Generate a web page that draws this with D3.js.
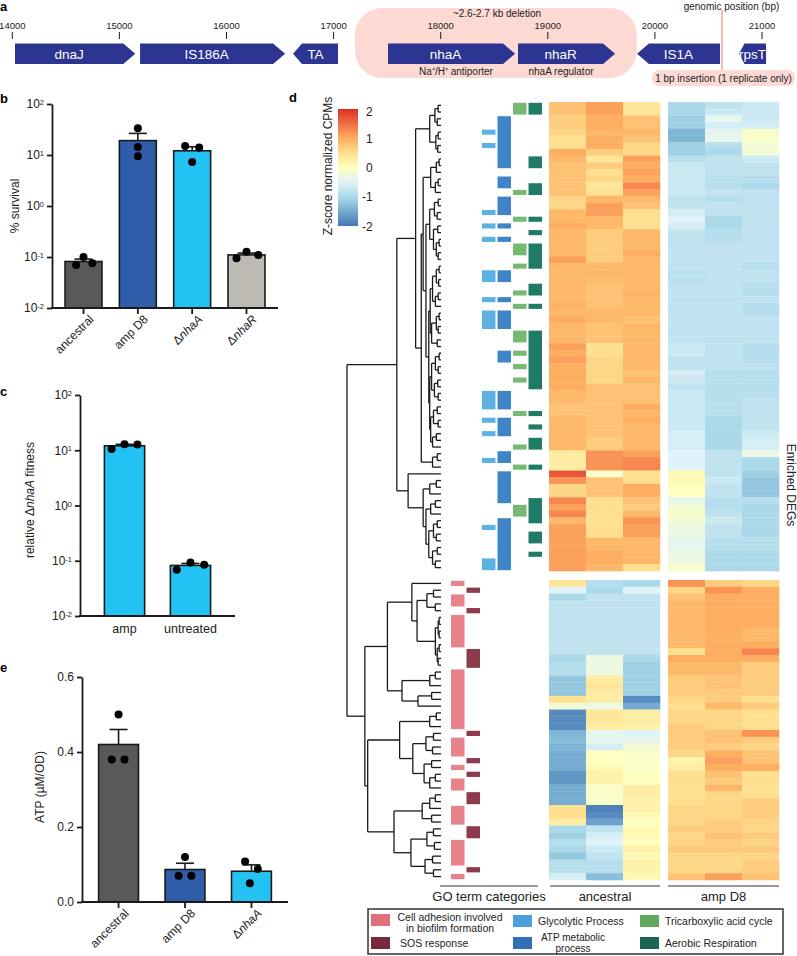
<!DOCTYPE html>
<html><head><meta charset="utf-8">
<script src="https://cdnjs.cloudflare.com/ajax/libs/d3/7.8.5/d3.min.js"></script>
<style>body{margin:0;background:#fff} text{font-family:"Liberation Sans",Arial,Helvetica,sans-serif}</style>
</head><body><svg id="c" width="797" height="956"></svg>
<script>
// ---------------- DATA ----------------
const genomeTicks = [14000,15000,16000,17000,18000,19000,20000,21000];
const geneNames  = ["dnaJ","IS186A","TA","nhaA","nhaR","IS1A","rpsT"];
const geneStart  = [14025,15193,16621,17508,18722,19833,20786];
const geneEnd    = [15148,16547,17041,18694,19628,20608,21038];
const geneStrand = [1,1,-1,1,1,-1,-1];
const deletionRange = [17200,19830];
const insertionPos = 20627;

const survivalGroups = ["ancestral","amp D8","ΔnhaA","ΔnhaR"];
const survivalPoints = [[0.07,0.1,0.075],[33.6,14.4,9.5],[15,14,7.3],[0.094,0.127,0.109]];
const survivalJitter = [[-0.2,0,0.24],[0,0,0],[-0.19,0.19,0],[-0.27,0,0.32]];
const survivalTicks = [0.01,0.1,1,10,100];

const fitnessGroups = ["amp","untreated"];
const fitnessPoints = [[10.5,12.9,12.7],[0.069,0.093,0.085]];
const fitnessJitter = [[-0.32,0,0.32],[-0.34,0,0.34]];

const atpGroups = ["ancestral","amp D8","ΔnhaA"];
const atpPoints = [[0.5,0.38,0.38],[0.12,0.07,0.07],[0.108,0.05,0.088]];
const atpJitter = [[0,-0.17,0.15],[0,-0.16,0.16],[-0.16,-0.04,0.16]];
const atpTicks = [0,0.2,0.4,0.6];

const groupColors = {"ancestral":"#58595b","amp D8":"#2f5daa","ΔnhaA":"#22c2f2","ΔnhaR":"#bdb9b3","amp":"#22c2f2","untreated":"#22c2f2"};

// heatmap z-scores: rows 0-69 = upper cluster, 70-113 = lower cluster
const ancestralZ = [
[0.8,1.1,0.4],[0.8,1.1,0.4],[0.7,1.0,0.8],[0.7,1.0,0.8],[0.6,0.9,0.9],[0.5,1.0,0.8],[0.5,1.0,0.6],[1.0,0.7,0.6],[0.9,0.4,1.1],[0.8,0.7,1.0],
[0.8,0.5,1.1],[0.8,0.6,1.0],[0.8,0.4,1.3],[0.8,0.5,1.1],[0.6,0.9,0.9],[0.6,1.1,0.8],[0.9,1.1,0.5],[0.9,0.9,0.5],[1.0,0.9,0.5],[0.9,0.7,0.9],
[0.9,0.7,0.9],[0.9,0.7,0.9],[0.9,0.7,1.0],[1.1,0.7,0.9],[0.9,0.9,0.9],[0.9,0.9,0.9],[0.9,0.85,0.9],[0.9,0.8,0.9],[0.9,0.8,0.95],[0.9,0.8,0.9],
[0.95,0.8,0.9],[0.9,0.9,0.9],[1.0,0.9,0.8],[0.9,0.8,0.9],[0.9,0.8,0.9],[0.9,0.8,0.9],[1.1,0.5,0.9],[1.0,0.5,0.9],[1.1,0.6,0.9],[1.0,0.6,0.9],
[1.0,0.6,0.8],[1.0,0.6,0.9],[1.0,0.8,0.8],[0.9,0.8,0.8],[0.9,0.8,0.8],[0.8,0.8,1.0],[0.8,0.8,0.9],[0.9,0.8,1.0],[0.9,0.8,0.9],[0.9,0.8,0.9],
[0.9,0.7,0.9],[0.9,0.7,0.9],[0.3,1.2,1.1],[0.3,1.2,1.3],[0.3,1.2,1.3],[1.7,-0.1,0.5],[1.2,0.8,0.5],[0.6,0.8,1.0],[0.6,0.8,1.0],[1.3,0.5,0.8],
[1.1,0.5,0.7],[1.3,0.5,0.9],[0.9,0.5,1.2],[1.1,0.5,1.1],[1.1,0.5,1.1],[1.1,0.9,0.9],[1.1,0.9,0.9],[1.1,1.0,0.9],[1.1,1.0,0.9],[1.1,0.9,0.5],
[0.4,-0.9,-1.0],[-0.5,-1.0,-0.5],[-1.0,-0.8,-0.8],[-0.8,-0.8,-0.8],[-0.8,-0.8,-0.8],[-0.8,-0.8,-0.8],[-0.8,-0.8,-0.8],[-0.8,-0.8,-0.8],[-0.8,-0.8,-0.8],[-0.8,-0.8,-0.8],
[-0.8,-0.8,-0.8],[-1.0,-0.3,-1.0],[-0.9,-0.3,-1.1],[-0.9,-0.3,-1.1],[-1.2,0.3,-1.1],[-1.2,0.4,-1.1],[-1.2,0.3,-1.1],[0.5,0.3,-1.8],[-0.2,-0.3,-1.5],[-1.8,0.4,0.3],
[-1.8,0.4,0.3],[-1.8,0.3,0.2],[-1.4,-0.4,-0.5],[-1.3,-0.4,-0.4],[-1.4,-0.6,-0.2],[-1.5,0.0,-0.1],[-1.5,0.0,-0.1],[-1.5,0.1,-0.1],[-1.7,0.2,0.0],[-1.7,0.2,0.0],
[-1.5,-0.1,0.3],[-1.5,-0.1,0.3],[-1.5,-0.1,0.2],[0.5,-1.9,0.2],[0.5,-1.8,0.1],[0.3,-1.6,0.0],[-1.0,-0.8,0.1],[-1.1,-0.6,0.1],[-0.9,-0.5,0.0],[-1.0,-0.7,0.2],
[-1.2,-0.8,0.1],[-0.9,-0.9,0.2],[-0.9,-0.9,0.2],[-0.6,-1.3,0.1]
];
const ampD8Z = [
[-1.0,-0.8,-0.7],[-1.0,-0.7,-0.7],[-1.1,-0.4,-0.7],[-1.1,-0.6,-0.6],[-1.4,-0.4,-0.1],[-1.4,-0.4,-0.1],[-1.1,-0.9,-0.2],[-1.1,-1.0,-0.2],[-0.9,-0.8,-0.7],[-0.7,-0.8,-0.8],
[-0.7,-0.8,-0.8],[-0.7,-0.9,-0.9],[-0.7,-0.9,-1.0],[-0.7,-0.8,-0.8],[-0.8,-0.9,-0.8],[-0.8,-0.8,-0.8],[-0.6,-0.8,-0.8],[-0.5,-1.0,-0.8],[-0.6,-1.0,-0.8],[-0.8,-0.9,-0.8],
[-0.8,-0.9,-0.8],[-0.8,-0.8,-0.8],[-0.8,-0.8,-0.8],[-0.8,-0.8,-0.8],[-0.8,-0.8,-0.9],[-0.85,-0.8,-0.8],[-0.85,-0.8,-0.8],[-0.8,-0.8,-0.9],[-0.8,-0.8,-0.9],[-0.8,-0.8,-0.8],
[-0.8,-0.8,-0.9],[-0.8,-0.8,-0.9],[-0.8,-0.8,-0.8],[-0.8,-0.8,-0.8],[-0.8,-0.8,-0.8],[-0.8,-0.8,-0.8],[-0.7,-0.8,-0.9],[-0.7,-0.8,-0.9],[-0.8,-0.8,-0.9],[-0.8,-0.8,-0.8],
[-0.6,-0.9,-0.9],[-0.7,-0.9,-0.9],[-0.8,-0.9,-0.9],[-0.7,-0.9,-0.9],[-0.7,-0.9,-0.8],[-0.7,-0.9,-0.8],[-0.7,-0.9,-0.8],[-0.7,-1.0,-0.8],[-0.7,-1.0,-0.8],[-0.6,-1.0,-0.7],
[-0.6,-1.0,-0.6],[-0.6,-1.0,-0.6],[-0.5,-0.8,-0.3],[-0.5,-0.8,-1.0],[-0.5,-0.8,-1.0],[0.1,-0.8,-1.1],[0.1,-0.7,-1.2],[0.0,-0.8,-1.2],[0.0,-0.8,-1.2],[-0.4,-0.9,-0.9],
[-0.2,-0.9,-1.0],[-0.1,-0.8,-1.0],[-0.2,-0.7,-1.0],[-0.3,-0.8,-1.0],[-0.3,-0.8,-1.0],[-0.4,-0.9,-0.9],[-0.4,-0.9,-0.9],[-0.3,-1.0,-1.0],[-0.3,-1.0,-1.0],[-0.1,-1.0,-1.0],
[1.2,0.7,0.6],[0.6,1.2,1.0],[0.8,1.0,1.0],[0.9,1.0,1.0],[0.9,1.0,1.0],[0.9,1.0,1.0],[0.9,1.0,1.0],[0.9,1.0,0.9],[0.9,1.0,0.9],[0.9,1.0,1.0],
[0.5,1.0,1.3],[1.0,1.0,1.0],[0.9,0.9,0.7],[0.9,0.9,0.7],[0.7,0.8,0.7],[0.7,0.8,0.7],[0.7,0.7,0.7],[0.6,0.7,0.5],[0.5,0.9,0.7],[0.6,0.6,0.5],
[0.6,0.6,0.5],[0.7,0.6,0.5],[0.7,0.8,1.2],[0.7,0.8,0.7],[0.7,0.7,0.6],[0.6,1.0,0.8],[0.2,1.1,0.8],[0.3,1.0,1.0],[0.5,0.8,0.5],[0.5,0.7,0.5],
[0.5,0.9,0.5],[0.5,0.6,0.5],[0.5,0.6,0.7],[0.6,0.6,0.7],[0.6,0.6,0.7],[0.6,0.7,0.6],[0.7,0.7,0.6],[0.6,0.8,0.7],[0.6,0.7,0.6],[0.7,0.7,0.7],
[0.6,0.6,0.6],[0.6,0.6,0.7],[0.6,0.6,0.7],[0.8,1.1,0.8]
];
const upperRowCount = 70;

// dendrogram: [height, childA, childB]; leaves are row indices
const dendrogramTree =
[10,
  [4.7,
    [2.7,
      [1.2,[0.65,[0.3,0,1],[0.4,2,3]],[0.55,[0.3,4,5],[0.35,6,7]]],
      [2.1,
        [1.9,
          [1.1,[0.5,[0.2,8,9],10],[0.6,[0.3,11,12],13]],
          [1.6,
            [1.2,[0.7,[0.3,14,15],[0.4,16,17]],[0.8,[0.35,18,19],[0.5,[0.2,20,21],[0.3,22,23]]]],
            [1.3,
              [1.15,[0.9,[0.5,[0.2,24,25],[0.25,26,27]],[0.6,[0.3,28,29],30]],[1.0,[0.5,[0.2,31,32],[0.3,33,34]],[0.4,35,36]]],
              [1.2,[1.0,[0.6,[0.2,37,38],[0.3,39,40]],[0.7,[0.35,41,42],[0.3,43,44]]],[1.1,[0.8,[0.4,45,46],[0.3,47,48]],[0.9,[0.5,49,50],51]]]
            ]
          ]
        ],
        [0.9,[0.4,52,53],54]
      ]
    ],
    [3.5,55,
      [1.9,
        [1.2,[0.5,56,57],58],
        [1.6,[1.1,[0.6,59,60],61],[1.3,[0.8,[0.4,62,63],[0.5,64,65]],[0.9,[0.4,66,67],[0.6,68,69]]]]
      ]
    ]
  ],
  [8.1,
    [5.7,
      [3.1,70,[2.55,[1.5,[0.8,71,72],[0.6,73,74]],[0.6,[0.3,[0.2,75,76],[0.2,77,78]],[0.4,[0.2,79,80],[0.3,81,82]]]]],
      [4.15,[1.2,[0.6,83,84],85],[2.45,[1.0,86,87],88]]
    ],
    [7.8,
      [4.4,[1.2,[0.5,89,90],91],[3.0,[1.6,[0.8,92,93],[0.9,94,95]],[1.8,[1.0,96,97],[1.2,[0.6,98,99],100]]]],
      [5.0,[2.0,[1.2,[0.6,101,102],103],[1.0,104,105]],[3.2,[1.5,[0.8,106,107],[0.7,108,109]],[1.7,[0.9,110,111],[0.8,112,113]]]]
    ]
  ]
];

// GO term membership (row indices)
const goNames = ["Cell adhesion involved in biofilm formation","SOS response","Glycolytic Process","ATP metabolic process","Tricarboxylic acid cycle","Aerobic Respiration"];
const adhesionRows = [70,72,73,75,76,77,78,79,83,84,85,86,87,88,89,90,91,93,94,95,97,99,100,103,104,105,108,109,110,111,113];
const sosRows = [71,74,80,81,82,92,96,98,101,102,106,107,112];
const glycolyticRows = [4,6,16,18,20,25,26,29,31,32,33,43,44,45,47,49,53,63,68,69];
const atpRows = [2,3,4,5,6,7,8,9,11,12,14,15,16,18,20,25,26,29,31,32,33,37,38,43,44,45,47,48,49,52,53,55,56,57,58,59,62,63,64,65,66,67,68,69];
const tcaRows = [0,1,13,17,21,22,24,28,30,34,35,37,39,41,46,51,54,60,61];
const aerobicRows = [0,1,8,9,12,13,17,19,21,22,23,24,27,28,30,34,35,36,37,38,39,40,41,42,46,48,50,51,54,59,60,61,62,64,65,67];
const colorbarTicks = [2,1,0,-1,-2];

// ---------------- DRAW ----------------
const svg = d3.select('#c');
const BLK = '#1a1a1a';

function groupLabel(sel, name){
  sel.text(null);
  if (name.startsWith('Δ')) { sel.append('tspan').text('Δ'); sel.append('tspan').attr('font-style','italic').text(name.slice(1)); }
  else sel.text(name);
}
function panelLetter(t,x,y){ svg.append('text').attr('x',x).attr('y',y).attr('font-weight','bold').attr('font-size',13).text(t); }
panelLetter('a',0,11); panelLetter('b',0,103); panelLetter('c',0,396); panelLetter('e',0,672); panelLetter('d',289,102);

// ----- panel a -----
const gx = d3.scaleLinear().domain([14000,21000]).range([12.3,762]);
const pink = '#fcdad3';
svg.append('rect').attr('x',gx(deletionRange[0])).attr('y',8).attr('width',gx(deletionRange[1])-gx(deletionRange[0])).attr('height',70).attr('rx',27).attr('fill',pink);
svg.append('line').attr('x1',gx(insertionPos)).attr('x2',gx(insertionPos)).attr('y1',10).attr('y2',72).attr('stroke','#f6bcb1').attr('stroke-width',2);
svg.append('rect').attr('x',652).attr('y',70).attr('width',143).attr('height',16).attr('rx',8).attr('fill',pink);
svg.append('text').attr('x',723.5).attr('y',81.5).attr('text-anchor','middle').attr('font-size',10).attr('fill','#222').text('1 bp insertion (1 replicate only)');
svg.append('text').attr('x',497).attr('y',16.5).attr('text-anchor','middle').attr('font-size',10).attr('fill','#222').text('~2.6-2.7 kb deletion');
svg.append('text').attr('x',731.5).attr('y',10).attr('text-anchor','middle').attr('font-size',10).attr('fill','#222').text('genomic position (bp)');
genomeTicks.forEach(t=>{
  svg.append('line').attr('x1',gx(t)).attr('x2',gx(t)).attr('y1',32).attr('y2',39).attr('stroke',BLK).attr('stroke-width',1);
  svg.append('text').attr('x',gx(t)).attr('y',28.5).attr('text-anchor','middle').attr('font-size',9.5).attr('fill','#222').text(t);
});
const gyT=43.5, gyB=64, gyC=53.75;
geneNames.forEach((nm,i)=>{
  const x0=gx(geneStart[i]), x1=gx(geneEnd[i]), head=Math.min(12,(x1-x0)*0.2);
  let pts, cx;
  if (geneStrand[i]>0){ pts=[[x0,gyT],[x1-head,gyT],[x1,gyC],[x1-head,gyB],[x0,gyB]]; cx=(x0+x1-head)/2; }
  else { pts=[[x0,gyC],[x0+head,gyT],[x1,gyT],[x1,gyB],[x0+head,gyB]]; cx=(x0+x1)/2; }
  svg.append('polygon').attr('points',pts.map(p=>p.join(',')).join(' ')).attr('fill','#2c3591');
  svg.append('text').attr('x',cx).attr('y',gyC+4.8).attr('text-anchor','middle').attr('font-size',13.5).attr('fill','#fff').text(nm);
});
svg.append('text').attr('x',456).attr('y',74.5).attr('text-anchor','middle').attr('font-size',10).attr('fill','#222').text('Na⁺/H⁺ antiporter');
svg.append('text').attr('x',561).attr('y',74.5).attr('text-anchor','middle').attr('font-size',10).attr('fill','#222').text('nhaA regulator');

// ----- generic bar panel -----
function styleAxis(g){
  g.select('.domain').attr('stroke',BLK).attr('stroke-width',1.8);
  g.selectAll('.tick line').attr('stroke',BLK).attr('stroke-width',1.8);
  g.selectAll('.tick text').attr('font-size',12).attr('fill','#222').attr('font-family','"Liberation Sans",Arial,sans-serif');
}
function logLabels(g){
  g.selectAll('.tick text').each(function(d){
    const e=Math.round(Math.log10(d)); const t=d3.select(this); t.text('10');
    t.append('tspan').attr('dy','-0.45em').attr('font-size','0.62em').text(e);
  });
}
function barPanel(o){
  const xs=d3.scaleBand().domain(o.groups).range([o.x0,o.x1]).paddingInner(o.pi).paddingOuter(o.po);
  const g=svg.append('g');
  const stats=o.points.map(p=>({m:d3.mean(p), s:d3.deviation(p)/Math.sqrt(p.length)}));
  o.groups.forEach((grp,i)=>{
    const cx=xs(grp)+xs.bandwidth()/2, m=stats[i].m, s=stats[i].s;
    g.append('line').attr('x1',cx).attr('x2',cx).attr('y1',o.y(m)).attr('y2',o.y(m+s)).attr('stroke',BLK).attr('stroke-width',1.6);
    g.append('line').attr('x1',cx-9).attr('x2',cx+9).attr('y1',o.y(m+s)).attr('y2',o.y(m+s)).attr('stroke',BLK).attr('stroke-width',1.6);
    g.append('rect').attr('x',xs(grp)).attr('y',o.y(m)).attr('width',xs.bandwidth()).attr('height',o.yb-o.y(m))
      .attr('fill',groupColors[grp]).attr('stroke',BLK).attr('stroke-width',1.6);
    o.points[i].forEach((v,j)=>{
      g.append('circle').attr('cx',cx+o.jitter[i][j]*xs.bandwidth()).attr('cy',o.y(v)).attr('r',4).attr('fill','#000');
    });
  });
  const ax=g.append('g').attr('transform',`translate(${o.x0},0)`).call(d3.axisLeft(o.y).tickValues(o.ticks).tickSize(5).tickSizeOuter(0).tickPadding(3).tickFormat(o.fmt||null));
  styleAxis(ax); if(o.log) logLabels(ax);
  g.append('line').attr('x1',o.x0-0.9).attr('x2',o.x1).attr('y1',o.yb).attr('y2',o.yb).attr('stroke',BLK).attr('stroke-width',1.8);
  o.groups.forEach(grp=>{
    const cx=xs(grp)+xs.bandwidth()/2;
    if(o.rot){
      g.append('line').attr('x1',cx).attr('x2',cx).attr('y1',o.yb).attr('y2',o.yb+6).attr('stroke',BLK).attr('stroke-width',1.8);
      g.append('text').attr('transform',`translate(${cx+11},${o.yb+12}) rotate(-45)`).attr('text-anchor','end').attr('font-size',12).attr('fill','#222').call(groupLabel,grp);
    } else {
      g.append('text').attr('x',cx).attr('y',o.yb+17).attr('text-anchor','middle').attr('font-size',12.5).attr('fill','#222').call(groupLabel,grp);
    }
  });
  const yl=g.append('text').attr('transform',`translate(${o.lx},${o.ly}) rotate(-90)`).attr('text-anchor','middle').attr('font-size',12).attr('fill','#222');
  o.label(yl);
}
barPanel({groups:survivalGroups,points:survivalPoints,jitter:survivalJitter,x0:52,x1:278,pi:0.32,po:0.24,
  y:d3.scaleLog().domain([0.01,100]).range([308,104]),yb:308,ticks:survivalTicks,log:true,rot:true,lx:19,ly:206,
  label:t=>t.text('% survival')});
barPanel({groups:fitnessGroups,points:fitnessPoints,jitter:fitnessJitter,x0:80,x1:235,pi:0.39,po:0.37,
  y:d3.scaleLog().domain([0.01,100]).range([616,395]),yb:616,ticks:survivalTicks,log:true,rot:false,lx:34,ly:500,
  label:t=>{t.append('tspan').text('relative Δ');t.append('tspan').attr('font-style','italic').text('nhaA');t.append('tspan').text(' fitness');}});
barPanel({groups:atpGroups,points:atpPoints,jitter:atpJitter,x0:82,x1:288,pi:0.4,po:0.25,
  y:d3.scaleLinear().domain([0,0.6]).range([902,677]),yb:902,ticks:atpTicks,fmt:d3.format('.1f'),rot:true,lx:44,ly:787,
  label:t=>t.text('ATP (µM/OD)')});

// ----- panel d -----
const zColor = d3.scaleLinear().domain([2,1.5,1,0.5,0,-0.5,-1,-1.5,-2])
  .range(["#d73027","#f46d43","#fdae61","#fee090","#ffffbf","#e0f3f8","#abd9e9","#74add1","#4575b4"]).clamp(true);
const defs=svg.append('defs');
const lg=defs.append('linearGradient').attr('id','cb').attr('x1',0).attr('x2',0).attr('y1',0).attr('y2',1);
d3.range(0,1.0001,0.05).forEach(t=>lg.append('stop').attr('offset',t).attr('stop-color',zColor(2-4*t)));
const cbY=d3.scaleLinear().domain([2,-2]).range([109,226]);
svg.append('rect').attr('x',338).attr('y',109).attr('width',20).attr('height',117).attr('fill','url(#cb)');
colorbarTicks.forEach(v=>svg.append('text').attr('x',v<0?362:366).attr('y',cbY(v)+4.5+(v==2?2:0)).attr('font-size',12).attr('fill','#222').text(v));
svg.append('text').attr('transform','translate(332,166) rotate(-90)').attr('text-anchor','middle').attr('font-size',12).attr('fill','#222').text('Z-score normalized CPMs');

const nRows = ancestralZ.length;
const yUp = d3.scaleBand().domain(d3.range(upperRowCount)).range([102,571]);
const yLo = d3.scaleBand().domain(d3.range(upperRowCount,nRows)).range([580,880]);
const rowTop = r => r<upperRowCount ? yUp(r) : yLo(r);
const rowH = r => r<upperRowCount ? yUp.bandwidth() : yLo.bandwidth();
const rowMid = r => rowTop(r)+rowH(r)/2;

const ancX = d3.scaleBand().domain([0,1,2]).range([549,660]);
const ampX = d3.scaleBand().domain([0,1,2]).range([668,779]);
const hm=svg.append('g');
[[ancestralZ,ancX],[ampD8Z,ampX]].forEach(([mat,xs])=>{
  mat.forEach((row,r)=>row.forEach((v,c)=>{
    hm.append('rect').attr('x',xs(c)).attr('y',rowTop(r)).attr('width',xs.bandwidth()+0.3).attr('height',rowH(r)+0.3).attr('fill',zColor(v));
  }));
});

const goCols=[adhesionRows,sosRows,glycolyticRows,atpRows,tcaRows,aerobicRows];
const goFill=["#e8828b","#8c3a4c","#5cb0e2","#3e84c6","#76b970","#1f7a66"];
const goLegend=["#df6e7b","#772a3d","#4c9fdb","#3070b6","#61a95d","#1c6553"];
const goX=d3.scaleBand().domain(d3.range(6)).range([451,542]).paddingInner(0.13);
goCols.forEach((rows,k)=>{
  const s=rows.slice().sort((a,b)=>a-b); const runs=[];
  s.forEach(r=>{ const last=runs[runs.length-1]; if(last && r===last[1]+1 && (r<upperRowCount)===(last[1]<upperRowCount)) last[1]=r; else runs.push([r,r]); });
  runs.forEach(([a,b])=>{
    const y0=rowTop(a)+0.8, y1=rowTop(b)+rowH(b)-0.8;
    svg.append('rect').attr('x',goX(k)).attr('y',y0).attr('width',goX.bandwidth()).attr('height',y1-y0).attr('fill',goFill[k]);
  });
});

function build(n){ return Array.isArray(n) ? {h:n[0],children:n.slice(1).map(build)} : {row:n,h:0}; }
const root=d3.hierarchy(build(dendrogramTree));
root.eachAfter(nd=>{ nd.ym = nd.children ? d3.mean(nd.children,c=>c.ym) : rowMid(nd.data.row); });
const hx=d3.scaleLinear().domain([0,10]).range([441,347]);
const dg=svg.append('g').attr('stroke',BLK).attr('stroke-width',1.3).attr('fill','none');
root.each(nd=>{
  if(!nd.children) return;
  const x=hx(nd.data.h);
  const ys=nd.children.map(c=>c.ym);
  dg.append('line').attr('x1',x).attr('x2',x).attr('y1',d3.min(ys)).attr('y2',d3.max(ys));
  nd.children.forEach(c=>dg.append('line').attr('x1',x).attr('x2',hx(c.data.h)).attr('y1',c.ym).attr('y2',c.ym));
});

[[440,538,'GO term categories'],[550,660,'ancestral'],[668,779,'amp D8']].forEach(([a,b,t])=>{
  svg.append('line').attr('x1',a).attr('x2',b).attr('y1',886).attr('y2',886).attr('stroke','#333').attr('stroke-width',1.2);
  svg.append('text').attr('x',(a+b)/2).attr('y',901).attr('text-anchor','middle').attr('font-size',13).attr('fill','#222').text(t);
});
svg.append('text').attr('transform','translate(787,485) rotate(90)').attr('text-anchor','middle').attr('font-size',12).attr('fill','#222').text('Enriched DEGs');

svg.append('rect').attr('x',368).attr('y',909).attr('width',415).attr('height',45).attr('fill','none').attr('stroke','#333').attr('stroke-width',1.5);
const legPos=[[371,914],[371,937],[513,915],[513,937],[640,915],[640,937]];
legPos.forEach(([x,y],k)=>svg.append('rect').attr('x',x).attr('y',y).attr('width',19).attr('height',12).attr('fill',goLegend[k]));
const lt=(x,y,t,anchor,fs)=>svg.append('text').attr('x',x).attr('y',y).attr('text-anchor',anchor||'start').attr('font-size',fs||10.5).attr('fill','#222').text(t);
lt(450,920.5,'Cell adhesion involved','middle'); lt(450,931.5,'in biofilm formation','middle');
lt(400,947,'SOS response');
lt(538,924.5,'Glycolytic Process');
lt(573,941,'ATP metabolic','middle',10); lt(573,951.5,'process','middle',10);
lt(665,924.5,'Tricarboxylic acid cycle');
lt(665,947,'Aerobic Respiration');
</script></body></html>
